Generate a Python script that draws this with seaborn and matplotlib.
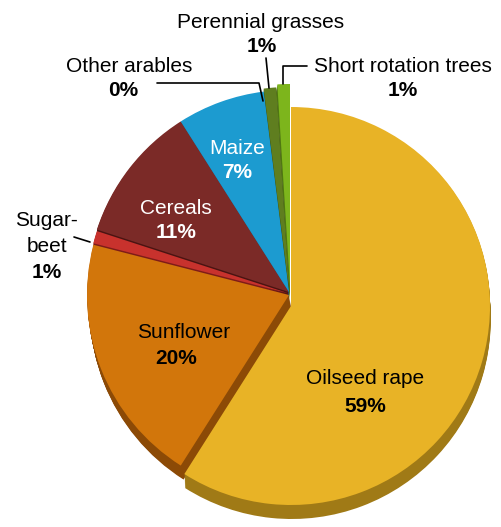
import matplotlib
matplotlib.use("Agg")
import matplotlib.pyplot as plt
import numpy as np
import seaborn as sns

# Share of each crop type (percent), drawn clockwise from 12 o'clock
crops = ["Oilseed rape", "Sunflower", "Sugar-\nbeet", "Cereals", "Maize",
         "Other arables", "Perennial grasses", "Short rotation trees"]
shares = [59, 20, 1, 11, 7, 0, 1, 1]

face_colors = ["#E8B326", "#D2760B", "#C8322D", "#7B2A27", "#1C9BD0",
               "#6E6E6E", "#5F7E1F", "#7DB51C"]
side_colors = ["#A07A16", "#8C4A06", "#7E1C18", "#4A1412", "#0F6A92",
               "#444444", "#3C5212", "#4F7810"]

sns.set_theme(style="white")
plt.rcParams["font.family"] = ["Liberation Sans", "DejaVu Sans"]

W, H = 501, 527
fig = plt.figure(figsize=(W / 100, H / 100), dpi=100)
ax = fig.add_axes([0, 0, 1, 1])

cx, cy = 289, H - 292
radius = 202
depth = 14
# sideways drift of the extruded rim per pixel of depth
lean = {1: 0.2, 0: 0.05}
# per-slice displacement of the top face (pixels, screen x / screen y-down)
shift = {0: (2, 14), 1: (0, 3), 2: (0, 1.5), 6: (0, -3), 7: (1, -6)}
radius_of = {0: 199}


def draw_pie(k, colors, z):
    wedges, _ = ax.pie(shares, colors=colors, startangle=90, counterclock=False,
                       radius=radius, center=(cx, cy),
                       wedgeprops=dict(linewidth=0, antialiased=True))
    for i, w in enumerate(wedges):
        sx, sy = shift.get(i, (0, 0))
        w.set_center((cx + sx + lean.get(i, 0.0) * k, cy - sy - k))
        w.set_radius(radius_of.get(i, radius))
        w.set_zorder(z)
    return wedges


# extruded side of the disc
for k in range(depth, 0, -1):
    draw_pie(k, side_colors, 1)
# top faces
draw_pie(0, face_colors, 2)

ax.set_xlim(0, W)
ax.set_ylim(0, H)
ax.set_aspect("auto")
ax.axis("off")


def txt(x, y, s, bold=False, color="black", ha="center"):
    ax.text(x, H - y, s, ha=ha, va="center", fontsize=15,
            fontweight="bold" if bold else "normal", color=color, zorder=5)


def pct(v):
    return f"{v}%"


# labels inside the pie
txt(365, 378, crops[0])
txt(365, 406, pct(shares[0]), bold=True)
txt(184, 333, crops[1])
txt(176, 358, pct(shares[1]), bold=True)
txt(176, 209, crops[3], color="white")
txt(176, 232, pct(shares[3]), bold=True, color="white")
txt(237, 148, crops[4], color="white")
txt(237, 173, pct(shares[4]), bold=True, color="white")

# labels outside the pie, with leader lines
sugar, beet = crops[2].split("\n")
txt(46, 221, sugar)
txt(47, 246, beet)
txt(47, 272, pct(shares[2]), bold=True)
ax.plot([74, 90], [H - 237, H - 242], color="black", lw=1.2, zorder=6)

txt(129, 66, crops[5])
txt(123, 91, pct(shares[5]), bold=True)
ax.plot([157, 259, 263], [H - 83, H - 83, H - 101], color="black", lw=1.2, zorder=6)

txt(261, 22, crops[6])
txt(262, 47, pct(shares[6]), bold=True)
ax.plot([266, 269], [H - 58, H - 88], color="black", lw=1.2, zorder=6)

txt(403, 66, crops[7])
txt(403, 91, pct(shares[7]), bold=True)
ax.plot([307, 283, 283], [H - 66, H - 66, H - 84], color="black", lw=1.2, zorder=6)

fig.savefig("out.png", dpi=100, facecolor="white")
